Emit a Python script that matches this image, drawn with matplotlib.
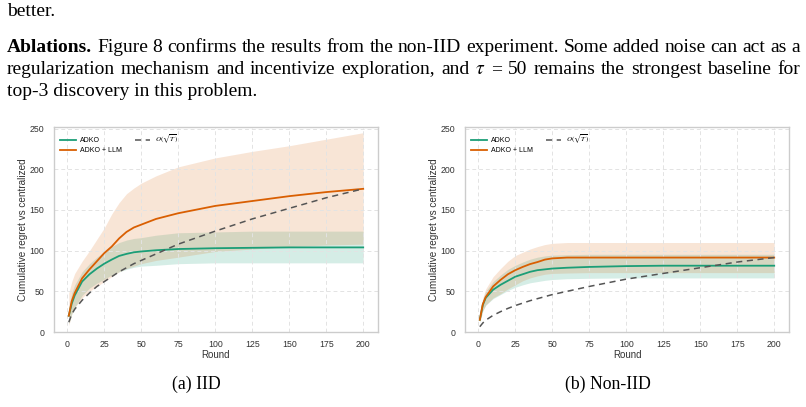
import matplotlib
matplotlib.use("Agg")
import matplotlib.pyplot as plt

W, H = 806, 407

# ---- data ----
rounds = [1, 3, 5, 10, 15, 20, 25, 30, 35, 40, 45, 50, 60, 75, 100, 125, 150, 175, 200]

# IID
iid_adko = [20, 35, 45, 62, 71, 78, 84, 89, 93.5, 96, 98, 99, 100.5, 102, 103, 103.5, 104, 104, 104]
iid_adko_lo = [10, 22, 30, 45, 54, 60, 65, 70, 74, 77, 79.5, 81, 82, 84, 85, 85, 85, 85, 85]
iid_adko_hi = [30, 48, 58, 74, 84, 92, 99, 105, 110, 113, 115, 116, 119, 122, 123, 124, 124, 124, 124]
iid_llm = [20, 38, 48, 66, 77, 87, 97, 105, 115, 123, 128.5, 132, 139, 146, 155, 161, 167, 172, 176]
iid_llm_lo = [8, 22, 30, 42, 50, 56, 62, 68, 74, 78, 81, 84, 88, 92, 99, 102, 105, 107, 108]
iid_llm_hi = [48, 62, 72, 87, 100, 114, 128, 145, 159, 170, 177, 183, 192, 203, 214, 222, 229, 237, 245]
iid_sqrt = [12, 22, 28, 39, 48, 56, 62, 68, 74, 79, 84, 88, 96, 108, 124, 139, 152, 165, 176]

# Non-IID
niid_adko = [15, 33, 42, 52, 58, 63, 68, 71, 74, 76, 77, 78, 79, 80, 81, 81.5, 81.5, 81.5, 81.5]
niid_adko_lo = [12, 26, 33, 41, 46, 51, 55, 58, 60.5, 62, 63.5, 64.5, 65.5, 66, 66.5, 66.5, 66.5, 66.5, 66.5]
niid_adko_hi = [18, 40, 50, 62, 70, 77, 82, 86, 89.5, 92, 93.5, 94.5, 95, 95.5, 95.5, 95.5, 95.5, 95.5, 95.5]
niid_llm = [15, 34, 43, 56, 64, 71, 76, 80, 83.5, 86, 89, 90.5, 91.5, 91.5, 91.5, 91.5, 91.5, 91.5, 91.5]
niid_llm_lo = [12, 26, 33, 42, 47, 53, 58, 63, 66.5, 69, 71, 72, 72.5, 73, 73, 73, 73, 73, 73]
niid_llm_hi = [20, 42, 53, 68, 78, 87, 94, 98, 102, 105, 107.5, 109, 110, 110, 110, 110, 110, 110, 110]
niid_sqrt = [6.5, 11, 14.5, 20.5, 25, 29, 32.5, 35.5, 38.5, 41, 43.5, 46, 50, 56, 65, 72, 79, 86, 91.5]

GREEN = "#1b9e77"
ORANGE = "#d95f02"

plt.rcParams["font.family"] = ["Liberation Sans", "DejaVu Sans"]
plt.rcParams["mathtext.fontset"] = "stix"

fig = plt.figure(figsize=(W / 100, H / 100), dpi=100)


def px_axes(x0, y0, x1, y1):
    return fig.add_axes([x0 / W, 1 - y1 / H, (x1 - x0) / W, (y1 - y0) / H])


def draw_panel(ax, x, adko, lo, hi, llm, llo, lhi, sq):
    ax.fill_between(x, lo, hi, color=GREEN, alpha=0.18, lw=0)
    ax.fill_between(x, llo, lhi, color=ORANGE, alpha=0.16, lw=0)
    ax.plot(x, adko, color=GREEN, lw=1.3, label="ADKO")
    ax.plot(x, llm, color=ORANGE, lw=1.3, label="ADKO + LLM")
    ax.plot(x, sq, color="#555555", lw=1.1, ls=(0, (4, 3)), label=r"$O(\sqrt{T})$")
    ax.set_xlim(-9, 210)
    ax.set_ylim(0, 252)
    ax.set_xticks([0, 25, 50, 75, 100, 125, 150, 175, 200])
    ax.set_yticks([0, 50, 100, 150, 200, 250])
    ax.tick_params(labelsize=6.3, length=0, colors="#333333")
    ax.tick_params(axis="y", pad=7)
    ax.tick_params(axis="x", pad=5.5)
    ax.grid(True, ls=(0, (4, 3)), color="#e3e3e3", lw=0.7)
    for s in ax.spines.values():
        s.set_color("#cccccc")
        s.set_linewidth(1.0)
    ax.set_xlabel("Round", fontsize=7, color="#333333", labelpad=1)
    ax.set_ylabel("Cumulative regret vs centralized", fontsize=7.2, color="#333333", labelpad=1)
    ax.legend(loc="upper left", ncol=2, fontsize=5, frameon=False,
              handlelength=2.2, handletextpad=0.7, columnspacing=1.8,
              borderaxespad=0.5, labelspacing=0.4)


ax1 = px_axes(54, 127, 378, 332)
draw_panel(ax1, rounds, iid_adko, iid_adko_lo, iid_adko_hi,
           iid_llm, iid_llm_lo, iid_llm_hi, iid_sqrt)
ax2 = px_axes(465, 127, 789, 332)
draw_panel(ax2, rounds, niid_adko, niid_adko_lo, niid_adko_hi,
           niid_llm, niid_llm_lo, niid_llm_hi, niid_sqrt)

# ---- surrounding paper text ----
serif = dict(family=["Liberation Serif", "DejaVu Serif"], color="black", va="center")
renderer = fig.canvas.get_renderer()


def justified(words, y, x0, x1, size):
    texts = []
    for w in words:
        weight = "bold" if w.startswith("Ablations") else "normal"
        texts.append(fig.text(0, 0, w, fontweight=weight, fontsize=size, **serif))
    widths = [t.get_window_extent(renderer).width for t in texts]
    gap = ((x1 - x0) - sum(widths)) / (len(words) - 1)
    x = x0
    for t, w in zip(texts, widths):
        t.set_position((x / W, 1 - y / H))
        x += w + gap


BODY = 14
fig.text(7 / W, 1 - 12 / H, "better.", fontsize=BODY, **serif)
justified("Ablations. Figure 8 confirms the results from the non-IID experiment. Some added noise can act as a".split(),
          48, 7, 800, BODY)
justified(r"regularization mechanism and incentivize exploration, and $\tau$ = 50 remains the strongest baseline for".split(),
          70, 7, 800, BODY)
fig.text(7 / W, 1 - 92 / H, "top-3 discovery in this problem.", fontsize=BODY, **serif)

fig.text(196 / W, 1 - 384 / H, "(a) IID", ha="center", fontsize=12.8, **serif)
fig.text(608 / W, 1 - 384 / H, "(b) Non-IID", ha="center", fontsize=12.8, **serif)

fig.savefig("out.png", dpi=100)
